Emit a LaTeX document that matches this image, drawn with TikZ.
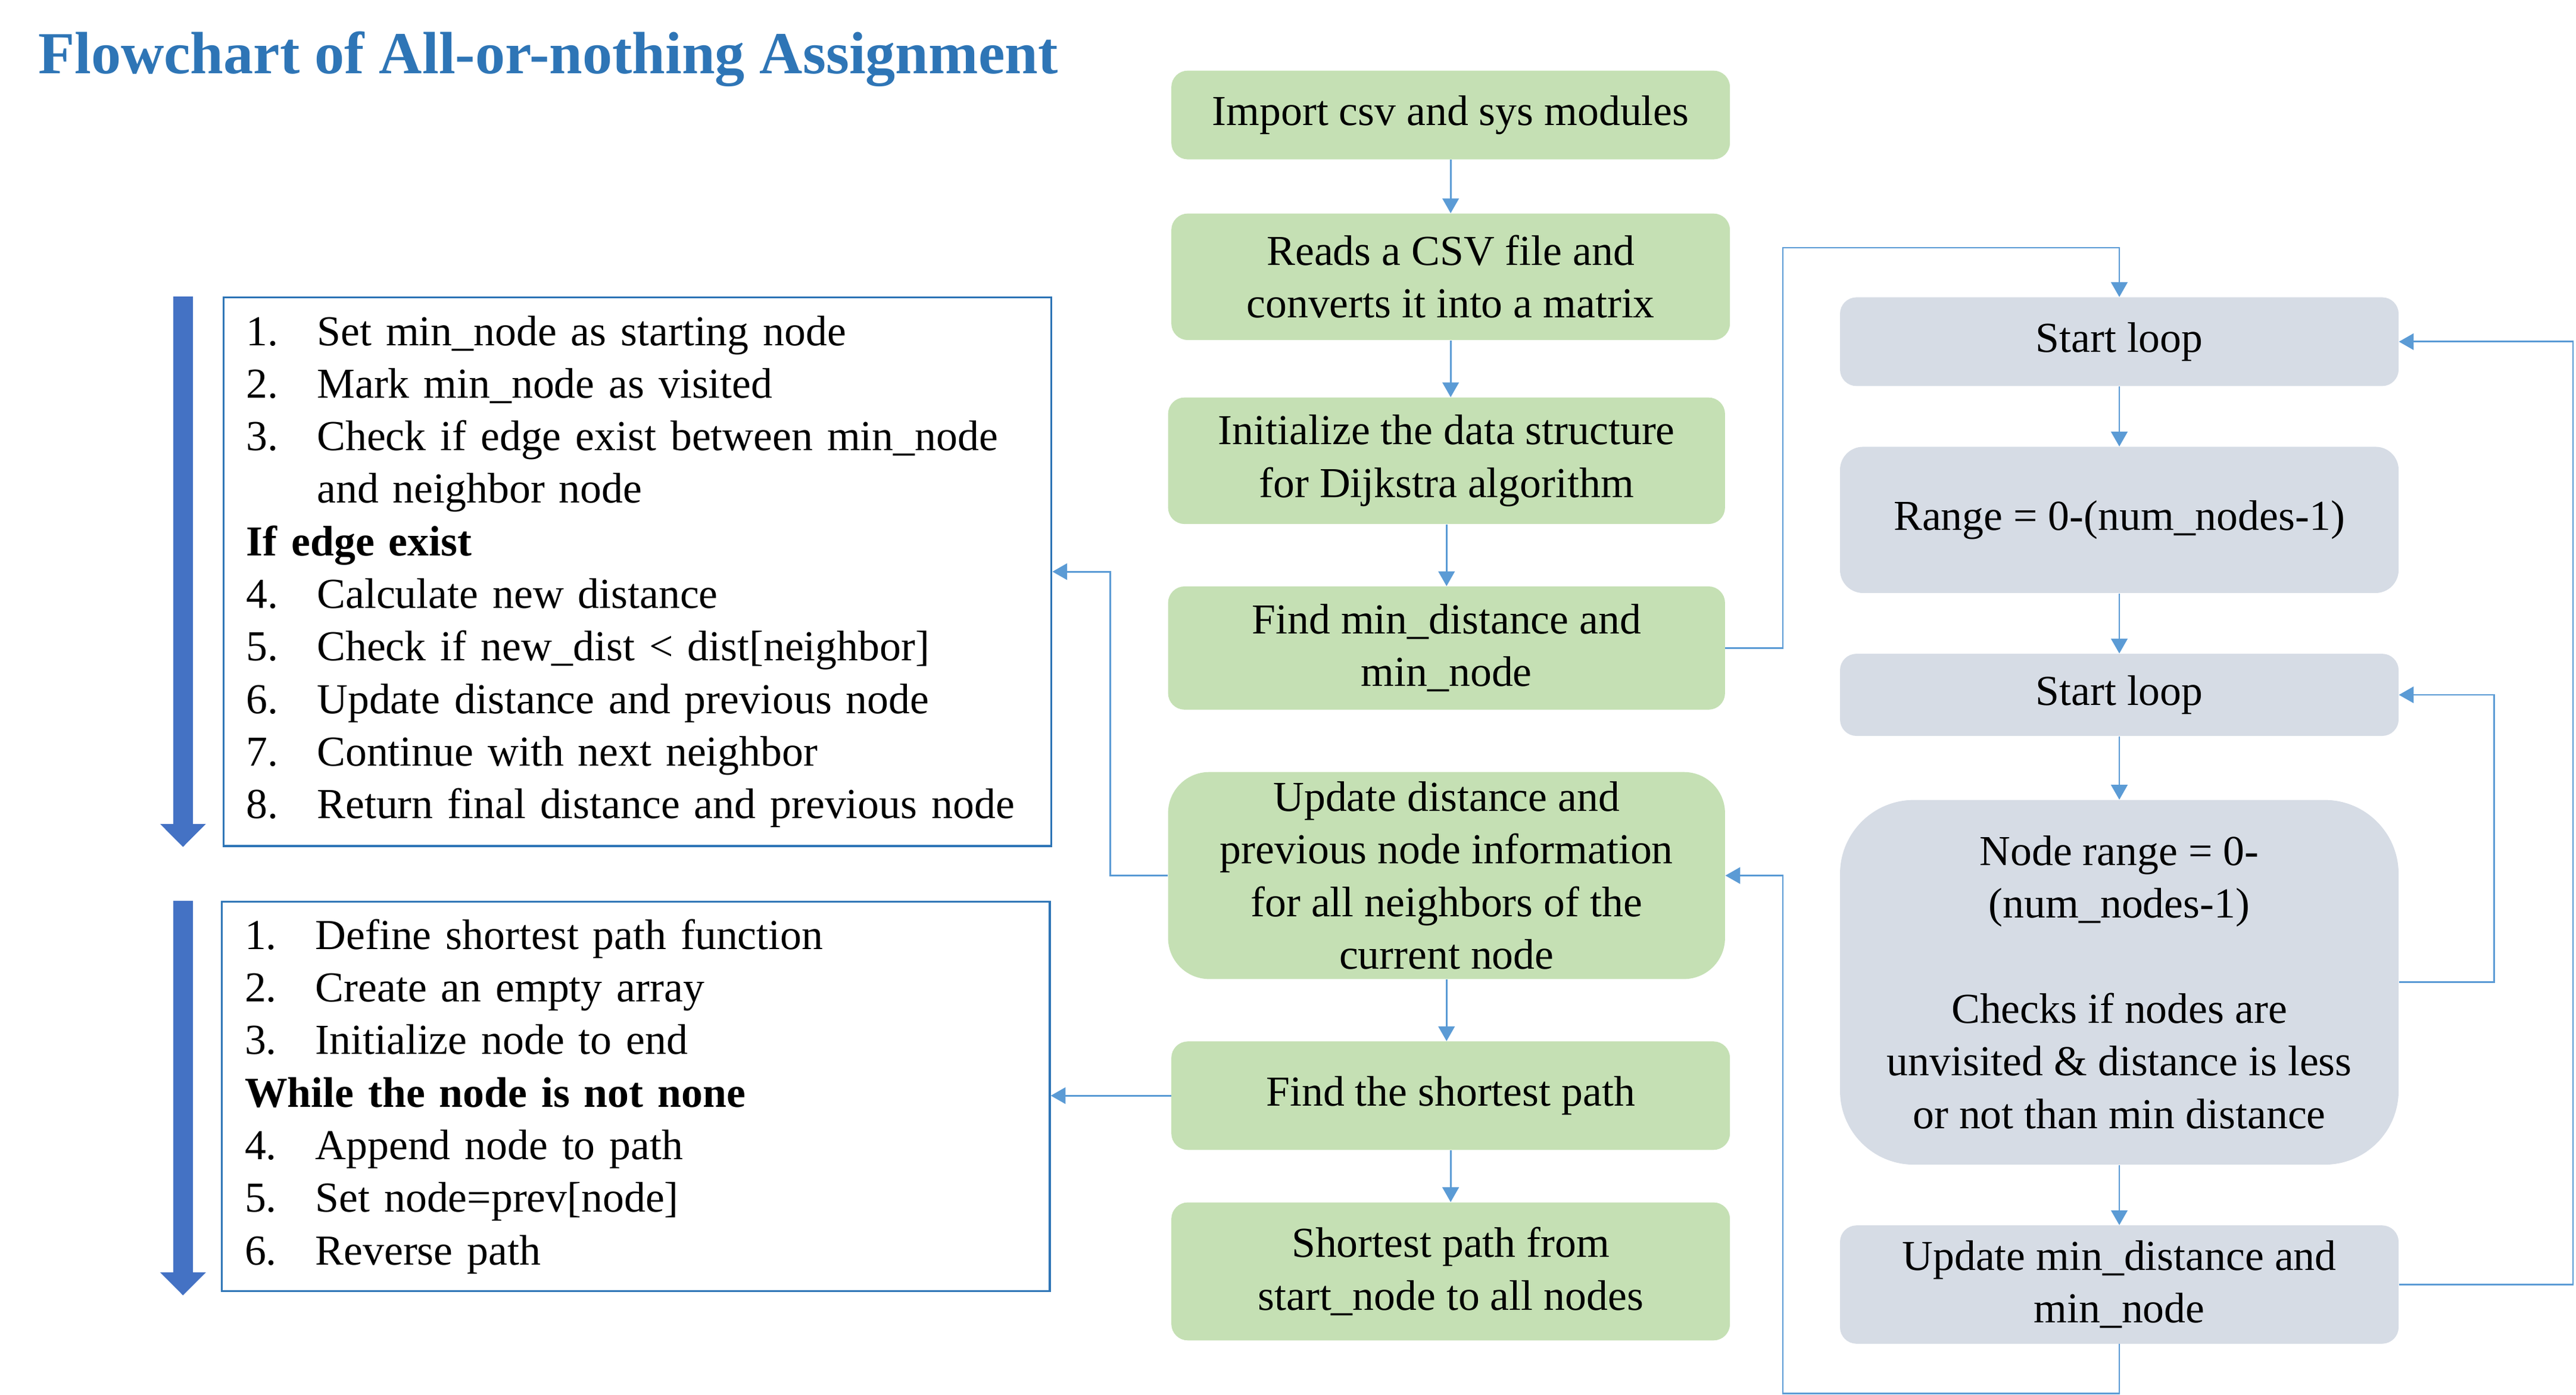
\documentclass[tikz,border=0pt]{standalone}
\usepackage{fontspec}
\setmainfont{Liberation Serif}
\usetikzlibrary{arrows.meta, positioning, calc}
\definecolor{titleblue}{RGB}{46,117,182}
\definecolor{stepgreen}{RGB}{197,224,180}
\definecolor{loopgray}{RGB}{214,220,229}
\definecolor{linkblue}{RGB}{91,155,213}
\definecolor{flowblue}{RGB}{68,114,196}
\newcommand{\stepnum}[1]{\makebox[43pt][l]{#1}}

\begin{document}
\begin{tikzpicture}[x=1pt, y=-1pt,
  txt/.style={font=\fontsize{26}{32}\selectfont},
  title/.style={font=\fontsize{36.3}{40}\selectfont\bfseries, text=titleblue, inner sep=0pt},
  stepbox/.style={txt, fill=stepgreen, rounded corners=#1, minimum width=340pt, align=center, inner sep=2pt},
  stepbox/.default=10pt,
  loopbox/.style={txt, fill=loopgray, rounded corners=#1, minimum width=340pt, align=center, inner sep=2pt},
  loopbox/.default=10pt,
  listbox/.style={txt, draw=titleblue, line width=1.2pt, text width=476pt, inner xsep=14pt, align=left},
  link/.style={draw=linkblue, line width=1pt, -{Triangle[length=9pt,width=10pt]}},
  flowarrow/.style={draw=flowblue, line width=12pt, -{Triangle[length=14pt,width=27pt]}},
]
  \useasboundingbox (0,0) rectangle (1568,849);

  \node[title, anchor=west] (title) at (23,36) {Flowchart of All-or-nothing Assignment};

  % main column
  \node[stepbox, minimum height=54pt] (imp) at (883,70) {Import csv and sys modules};
  \node[stepbox, minimum height=77pt] (csv) at (883,168.5) {Reads a CSV file and\\converts it into a matrix};
  \node[stepbox, minimum width=339pt, minimum height=77pt] (init) at (880.5,280.5) {Initialize the data structure\\for Dijkstra algorithm};
  \node[stepbox, minimum width=339pt, minimum height=75pt] (fmin) at (880.5,394.5) {Find min\_distance and\\min\_node};
  \node[stepbox=25pt, minimum width=339pt, minimum height=126pt] (upd) at (880.5,533) {Update distance and\\previous node information\\for all neighbors of the\\current node};
  \node[stepbox, minimum height=66pt] (fsp) at (883,667) {Find the shortest path};
  \node[stepbox, minimum height=84pt] (res) at (883,774) {Shortest path from\\start\_node to all nodes};

  % loop column
  \node[loopbox, minimum height=54pt] (sl1) at (1290,208) {Start loop};
  \node[loopbox=14pt, minimum height=89pt] (rng) at (1290,316.5) {Range = 0-(num\_nodes-1)};
  \node[loopbox, minimum height=50pt] (sl2) at (1290,423) {Start loop};
  \node[loopbox=45pt, minimum height=222pt] (nrg) at (1290,598) {Node range = 0-\\(num\_nodes-1)\\[32pt]Checks if nodes are\\unvisited \& distance is less\\or not than min distance};
  \node[loopbox, minimum height=72pt] (umd) at (1290,782) {Update min\_distance and\\min\_node};

  % code boxes
  \node[listbox, minimum height=334pt] (dijk) at (388,348) {
    \stepnum{1.}Set min\_node as starting node\\
    \stepnum{2.}Mark min\_node as visited\\
    \stepnum{3.}Check if edge exist between min\_node\\
    \stepnum{}and neighbor node\\
    \textbf{If edge exist}\\
    \stepnum{4.}Calculate new distance\\
    \stepnum{5.}Check if new\_dist < dist[neighbor]\\
    \stepnum{6.}Update distance and previous node\\
    \stepnum{7.}Continue with next neighbor\\
    \stepnum{8.}Return final distance and previous node};
  \node[listbox, minimum height=237pt] (path) at (387,667.5) {
    \stepnum{1.}Define shortest path function\\
    \stepnum{2.}Create an empty array\\
    \stepnum{3.}Initialize node to end\\
    \textbf{While the node is not none}\\
    \stepnum{4.}Append node to path\\
    \stepnum{5.}Set node=prev[node]\\
    \stepnum{6.}Reverse path};

  \draw[flowarrow] ([xshift=-24pt]dijk.north west) -- ([xshift=-24pt]dijk.south west);
  \draw[flowarrow] ([xshift=-23pt]path.north west) -- ([xshift=-23pt,yshift=-2pt]path.south west);

  \foreach \a/\b in {imp/csv, csv/init, init/fmin, upd/fsp, fsp/res, sl1/rng, rng/sl2, sl2/nrg, nrg/umd}
    \draw[link] (\a.south) -- (\a.south |- \b.north);

  \draw[link] (fmin.east) -- ([xshift=35pt]fmin.east) |- ([yshift=30pt]sl1.north) -- (sl1.north);
  \draw[link] (umd.east) -- ++(106,0) |- (sl1.east);
  \draw[link] (nrg.east) -- ++(58,0) |- (sl2.east);
  \draw[link] (umd.south) -- ([yshift=-30pt]umd.south) -| ([xshift=35pt]upd.east) -- (upd.east);
  \draw[link] (upd.west) -- ++(-35,0) |- (dijk.east);
  \draw[link] (fsp.west) -- (fsp.west -| path.east);
\end{tikzpicture}
\end{document}
